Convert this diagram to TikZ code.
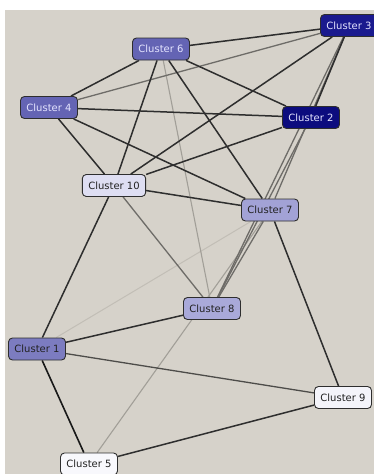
\documentclass[tikz,border=0pt]{standalone}
\usepackage{fontspec}
\setmainfont{DejaVu Sans}
\pgfdeclarelayer{back}
\pgfdeclarelayer{edges}
\pgfsetlayers{back,edges,main}
\definecolor{bgc}{HTML}{D6D2CA}
\definecolor{navyA}{HTML}{1A1A8E}
\definecolor{navyB}{HTML}{0C0C7E}
\definecolor{midA}{HTML}{6464B4}
\definecolor{midB}{HTML}{7C7CC0}
\definecolor{lightA}{HTML}{A2A2D6}
\definecolor{paleA}{HTML}{DEDEF2}
\definecolor{paleB}{HTML}{F4F4FA}
\definecolor{txtlight}{HTML}{E4E4FF}
\definecolor{txtdark}{HTML}{222222}
\definecolor{edk}{HTML}{2E2E2E}
\definecolor{emd}{HTML}{6E6C68}
\definecolor{elt}{HTML}{A29F98}
\definecolor{evlt}{HTML}{C2BEB6}
\tikzset{
  clbox/.style={draw=edk, line width=0.9pt, rounded corners=4pt, minimum height=22pt,
    inner xsep=6pt, inner ysep=0pt, font=\fontsize{10}{12}\selectfont},
  darkbox/.style={clbox, text=txtlight},
  lightbox/.style={clbox, text=txtdark},
  edgedk/.style={draw=edk, line width=1.5pt},
  edgeblk/.style={draw=black!90, line width=1.6pt},
  edgemd/.style={draw=emd, line width=1.3pt},
  edgelt/.style={draw=elt, line width=1.1pt},
  edgevlt/.style={draw=evlt, line width=1pt}
}
\begin{document}
\begin{tikzpicture}[x=1pt,y=-1pt]
\useasboundingbox (0,0) rectangle (374,474);
\begin{pgfonlayer}{back}
\fill[bgc] (5,10) rectangle (380,480);
\end{pgfonlayer}
\node[darkbox, fill=midA] (c6) at (161,49) {Cluster 6};
\node[darkbox, fill=navyA] (c3) at (349,25.5) {Cluster 3};
\node[darkbox, fill=midA] (c4) at (49,107.5) {Cluster 4};
\node[darkbox, fill=navyB] (c2) at (311,117.5) {Cluster 2};
\node[lightbox, fill=paleA] (c10) at (114,185.5) {Cluster 10};
\node[lightbox, fill=lightA] (c7) at (270,210) {Cluster 7};
\node[lightbox, fill=lightA!92!white] (c8) at (212,308.5) {Cluster 8};
\node[lightbox, fill=midB] (c1) at (37,349) {Cluster 1};
\node[lightbox, fill=paleB] (c9) at (343,397.5) {Cluster 9};
\node[lightbox, fill=paleB!60!white] (c5) at (89,464) {Cluster 5};
\begin{pgfonlayer}{edges}
\draw[edgevlt] (c7) -- (c1);
\draw[edgelt] (c7) -- (c5);
\draw[edgelt] (c6) -- (c8);
\draw[edgemd] (c10) -- (c8);
\draw[edgemd] (c4) -- (c3);
\draw[edgemd] (c3) -- (c7);
\draw[edgemd] (c3) -- (c8);
\draw[edgemd] (c2) -- (c8);
\draw[edgemd] (c7) -- (c8);
\draw[edgedk] (c6) -- (c3);
\draw[edgedk] (c6) -- (c4);
\draw[edgedk] (c6) -- (c2);
\draw[edgedk] (c6) -- (c10);
\draw[edgedk] (c6) -- (c7);
\draw[edgedk] (c4) -- (c2);
\draw[edgedk] (c4) -- (c7);
\draw[edgedk] (c4) -- (c10);
\draw[edgedk] (c3) -- (c10);
\draw[edgedk] (c2) -- (c10);
\draw[edgedk] (c3) -- (c2);
\draw[edgedk] (c10) -- (c7);
\draw[edgedk] (c10) -- (c1);
\draw[edgedk] (c7) -- (c9);
\draw[edgedk] (c8) -- (c1);
\draw[edgemd, draw=emd!70!black] (c1) -- (c9);
\draw[edgeblk] (c1) -- (c5);
\draw[edgedk] (c5) -- (c9);
\end{pgfonlayer}
\end{tikzpicture}
\end{document}
